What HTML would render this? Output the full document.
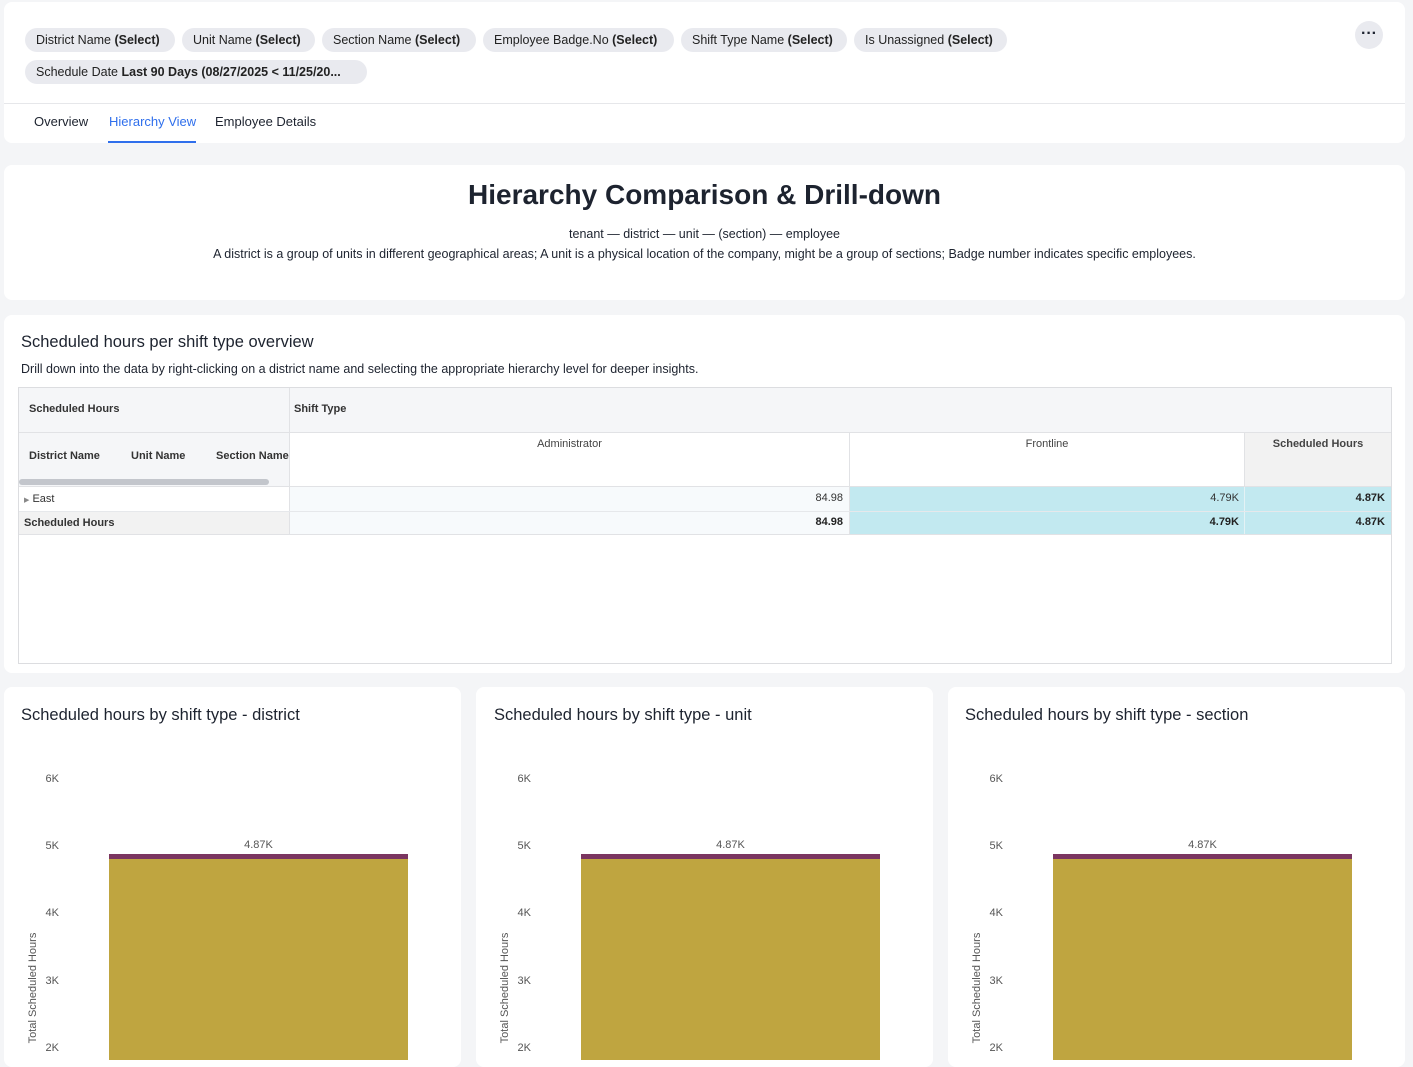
<!DOCTYPE html>
<html><head><meta charset="utf-8"><style>
*{box-sizing:border-box;margin:0;padding:0}
body{width:1413px;height:1060px;overflow:hidden;background:#f4f5f7;font-family:"Liberation Sans",sans-serif;color:#1d232f;position:relative}
.card{position:absolute;background:#fff;border-radius:8px}
.abs{position:absolute;white-space:nowrap}
.chip{position:absolute;height:24px;border-radius:12px;background:#e9eaef;font-size:12.5px;line-height:24px;padding-left:11px;white-space:nowrap;overflow:hidden;color:#222}
.chip b{font-weight:bold}
.t{position:absolute;white-space:nowrap;font-size:11px}
</style></head><body>
<div class="card" style="left:4px;top:2px;width:1401px;height:141px">
 <div class="chip" style="left:21px;top:26px;width:150px">District Name <b>(Select)</b></div>
 <div class="chip" style="left:178px;top:26px;width:133px">Unit Name <b>(Select)</b></div>
 <div class="chip" style="left:318px;top:26px;width:154px">Section Name <b>(Select)</b></div>
 <div class="chip" style="left:479px;top:26px;width:191px">Employee Badge.No <b>(Select)</b></div>
 <div class="chip" style="left:677px;top:26px;width:166px">Shift Type Name <b>(Select)</b></div>
 <div class="chip" style="left:850px;top:26px;width:153px">Is Unassigned <b>(Select)</b></div>
 <div class="chip" style="left:21px;top:58px;width:342px">Schedule Date <b>Last 90 Days (08/27/2025 &lt; 11/25/20...</b></div>
 <div class="abs" style="left:1351px;top:19px;width:28px;height:28px;border-radius:14px;background:#e9eaef;text-align:center;font-size:16px;line-height:26px;font-weight:bold">···</div>
 <div class="abs" style="left:0;top:101px;width:1401px;height:1px;background:#e6e7ea"></div>
 <div class="abs" style="left:30px;top:112px;font-size:13px">Overview</div>
 <div class="abs" style="left:105px;top:112px;font-size:13px;color:#2f6fec">Hierarchy View</div>
 <div class="abs" style="left:104px;top:139px;width:88px;height:2px;background:#2f6fec"></div>
 <div class="abs" style="left:211px;top:112px;font-size:13px">Employee Details</div>
</div>
<div class="card" style="left:4px;top:165px;width:1401px;height:135px">
 <div class="abs" style="left:0;width:1401px;top:14px;text-align:center;font-size:28px;font-weight:bold">Hierarchy Comparison &amp; Drill-down</div>
 <div class="abs" style="left:0;width:1401px;top:62px;text-align:center;font-size:12.5px">tenant — district — unit — (section) — employee</div>
 <div class="abs" style="left:0;width:1401px;top:82px;text-align:center;font-size:12.5px">A district is a group of units in different geographical areas; A unit is a physical location of the company, might be a group of sections; Badge number indicates specific employees.</div>
</div>
<div class="card" style="left:4px;top:315px;width:1401px;height:358px">
 <div class="abs" style="left:17px;top:18px;font-size:16.5px">Scheduled hours per shift type overview</div>
 <div class="abs" style="left:17px;top:47px;font-size:12.5px">Drill down into the data by right-clicking on a district name and selecting the appropriate hierarchy level for deeper insights.</div>
</div>
<div class="abs" style="left:18px;top:387px;width:1374px;height:277px;border:1px solid #dcdde0;background:#fff"></div>
<div class="abs" style="left:19px;top:388px;width:1372px;height:45px;background:#f5f6f8;border-bottom:1px solid #e1e2e5"></div>
<div class="abs" style="left:19px;top:433px;width:270px;height:53px;background:#f5f6f8"></div>
<div class="abs" style="left:289px;top:388px;width:1px;height:147px;background:#e1e2e5"></div>
<div class="abs" style="left:849px;top:433px;width:1px;height:102px;background:#e1e2e5"></div>
<div class="abs" style="left:1244px;top:433px;width:147px;height:53px;background:#f2f2f2;border-left:1px solid #e1e2e5"></div>
<div class="abs" style="left:19px;top:479px;width:250px;height:6px;border-radius:3px;background:#c3c6cc"></div>
<div class="abs" style="left:19px;top:486px;width:1372px;height:1px;background:#e1e2e5"></div>
<div class="abs" style="left:290px;top:487px;width:559px;height:47px;background:#f7fafc"></div>
<div class="abs" style="left:850px;top:487px;width:541px;height:47px;background:#c2e9f0"></div>
<div class="abs" style="left:1244px;top:487px;width:1px;height:47px;background:#e4f2f5"></div>
<div class="abs" style="left:19px;top:512px;width:270px;height:22px;background:#f2f2f2"></div>
<div class="abs" style="left:19px;top:511px;width:1372px;height:1px;background:#e6e8eb"></div>
<div class="abs" style="left:19px;top:534px;width:1372px;height:1px;background:#e1e2e5"></div>
<div class="t" style="left:29px;top:403px;font-weight:bold;color:#333">Scheduled Hours</div>
<div class="t" style="left:294px;top:403px;font-weight:bold;color:#333">Shift Type</div>
<div class="t" style="left:29px;top:450px;font-weight:bold;color:#333">District Name</div>
<div class="t" style="left:131px;top:450px;font-weight:bold;color:#333">Unit Name</div>
<div class="t" style="left:216px;top:450px;font-weight:bold;color:#333">Section Name</div>
<div class="t" style="left:290px;width:559px;text-align:center;top:438px;color:#444">Administrator</div>
<div class="t" style="left:850px;width:394px;text-align:center;top:438px;color:#444">Frontline</div>
<div class="t" style="left:1245px;width:146px;text-align:center;top:438px;font-weight:bold;color:#444">Scheduled Hours</div>
<div class="t" style="left:24px;top:493px;color:#333"><span style="font-size:7px;color:#888">▶</span> East</div>
<div class="t" style="left:24px;top:517px;font-weight:bold;color:#333">Scheduled Hours</div>
<div class="t" style="left:700px;width:143px;text-align:right;top:492px;color:#333">84.98</div>
<div class="t" style="left:700px;width:143px;text-align:right;top:516px;font-weight:bold;color:#222">84.98</div>
<div class="t" style="left:1100px;width:139px;text-align:right;top:492px;color:#333">4.79K</div>
<div class="t" style="left:1100px;width:139px;text-align:right;top:516px;font-weight:bold;color:#222">4.79K</div>
<div class="t" style="left:1250px;width:135px;text-align:right;top:492px;font-weight:bold;color:#222">4.87K</div>
<div class="t" style="left:1250px;width:135px;text-align:right;top:516px;font-weight:bold;color:#222">4.87K</div>

<div class="card" style="left:4px;top:687px;width:457px;height:380px">
 <div class="abs" style="left:17px;top:19px;font-size:16.5px">Scheduled hours by shift type - district</div>
</div>
<div class="card" style="left:476px;top:687px;width:457px;height:380px">
 <div class="abs" style="left:18px;top:19px;font-size:16.5px">Scheduled hours by shift type - unit</div>
</div>
<div class="card" style="left:948px;top:687px;width:457px;height:380px">
 <div class="abs" style="left:17px;top:19px;font-size:16.5px">Scheduled hours by shift type - section</div>
</div>
<div id="ch"></div>
<script>
var o='';[4,476,948].forEach(function(x){
 [['6K',779],['5K',846],['4K',913],['3K',981],['2K',1048]].forEach(function(t){
  o+='<div class="t" style="left:'+(x+30)+'px;width:25px;text-align:right;top:'+(t[1]-6)+'px;color:#555">'+t[0]+'</div>';});
 o+='<div class="t" style="left:'+(x-31)+'px;top:982px;width:120px;text-align:center;transform:rotate(-90deg);color:#555">Total Scheduled Hours</div>';
 o+='<div class="abs" style="left:'+(x+105)+'px;top:854px;width:299px;height:5px;background:#7b3560"></div>';
 o+='<div class="abs" style="left:'+(x+105)+'px;top:859px;width:299px;height:201px;background:#bfa540"></div>';
 o+='<div class="t" style="left:'+(x+105)+'px;width:299px;text-align:center;top:839px;color:#555">4.87K</div>';
});document.getElementById('ch').innerHTML=o;
</script>
</body></html>
